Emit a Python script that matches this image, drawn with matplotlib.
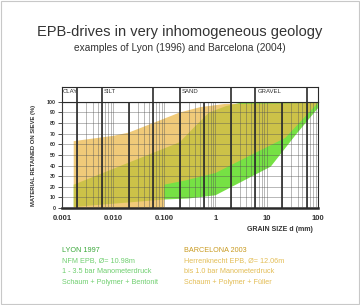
"""
Grain size distribution bands for EPB drives (Lyon / Barcelona),
redrawn as a sieve-curve chart.
"""

import matplotlib
matplotlib.use("Agg")
import matplotlib.pyplot as plt
from matplotlib.patches import Rectangle

plt.rcParams["font.family"] = ["Liberation Sans", "DejaVu Sans"]

# ---------------------------------------------------------------------------
# Data (grain size d in mm, material retained in %)
# ---------------------------------------------------------------------------

lyon_upper_d = [0.0017, 0.2, 0.4, 0.75, 1.6, 3, 100]
lyon_upper_p = [22, 62, 77, 90, 96, 99, 99]
lyon_lower_d = [0.0017, 0.1, 0.3, 1.0, 12, 37, 100]
lyon_lower_p = [1, 8, 9, 12, 39, 69, 94]

barc_upper_d = [0.0017, 0.01, 0.02, 0.06, 0.2, 0.5, 1.5, 100]
barc_upper_p = [63, 68, 71, 80, 90, 95, 98, 99]
barc_lower_d = [0.0017, 0.1, 0.1, 0.26, 1.0, 6, 23, 100]
barc_lower_p = [0, 0, 22, 26, 33, 52, 66, 99]

x_ticks = [0.001, 0.01, 0.1, 1, 10, 100]
x_tick_labels = ["0.001", "0.010", "0.100", "1", "10", "100"]
y_ticks = list(range(0, 101, 10))

soil_bounds = [0.002, 0.006, 0.02, 0.06, 0.2, 0.6, 2, 6, 20, 60]
header_bounds = [0.002, 0.006, 0.06, 0.2, 2, 6, 60]
soil_names = ["CLAY", "SILT", "SAND", "GRAVEL"]
soil_name_d = [0.00106, 0.0066, 0.22, 6.6]

lyon_text = ["LYON 1997", "NFM EPB, \u00d8= 10.98m",
             "1 - 3.5 bar Manometerdruck", "Schaum + Polymer + Bentonit"]
barc_text = ["BARCELONA 2003", "Herrenknecht EPB, \u00d8= 12.06m",
             "bis 1.0 bar Manometerdruck", "Schaum + Polymer + F\u00fcller"]

# ---------------------------------------------------------------------------
# Style
# ---------------------------------------------------------------------------

_LYON_COLOR = "#6FE03A"
_BARC_COLOR = "#EBB84A"
_LINE = "#2a2a2a"

fig = plt.figure(figsize=(3.6, 3.05), dpi=100)
fig.patches.append(Rectangle((0.004, 0.004), 0.992, 0.992, transform=fig.transFigure,
                             fill=False, edgecolor="#c8c8c8", linewidth=0.8))

ax = fig.add_axes([0.172, 0.318, 0.711, 0.348])
ax_h = fig.add_axes([0.172, 0.666, 0.711, 0.049], sharex=ax)

# bands
ax.fill(lyon_upper_d + lyon_lower_d[::-1], lyon_upper_p + lyon_lower_p[::-1],
        color=_LYON_COLOR, alpha=0.95, linewidth=0, zorder=1)
ax.fill(barc_upper_d + barc_lower_d[::-1], barc_upper_p + barc_lower_p[::-1],
        color=_BARC_COLOR, alpha=0.74, linewidth=0, zorder=2)

ax.set_xscale("log")
ax.set_xlim(0.001, 100)
ax.set_ylim(0, 100)

# grid
minor = [m * 10.0 ** e for e in range(-3, 2) for m in range(2, 10)]
for d in minor + x_ticks:
    ax.axvline(d, color="#555555", linewidth=0.45, alpha=0.65, zorder=3)
for p in y_ticks:
    ax.axhline(p, color="#555555", linewidth=0.45, alpha=0.65, zorder=3)
for d in soil_bounds:
    ax.axvline(d, color=_LINE, linewidth=1.2, zorder=4)

ax.set_xticks(x_ticks)
ax.set_xticklabels(x_tick_labels, fontsize=5.5, fontweight="bold", color="#333333")
ax.xaxis.set_minor_locator(matplotlib.ticker.NullLocator())
ax.set_yticks(y_ticks)
ax.set_yticklabels([str(v) for v in y_ticks], fontsize=3.8, fontweight="bold",
                   color="#333333")
ax.tick_params(axis="y", length=3, width=0.6, pad=1.5, colors="#333333")
ax.tick_params(axis="x", length=0, pad=5)
for side in ("left", "right", "top"):
    ax.spines[side].set_linewidth(0.8)
    ax.spines[side].set_color(_LINE)
ax.spines["bottom"].set_linewidth(1.8)
ax.spines["bottom"].set_color(_LINE)

ax.set_ylabel("MATERIAL RETAINED ON SIEVE (%)", fontsize=4.2, fontweight="bold",
              color="#333333", labelpad=8)
ax.text(0.85, -0.2, "GRAIN SIZE d (mm)", transform=ax.transAxes, fontsize=5,
        fontweight="bold", color="#333333", ha="center", va="center")

# header band with soil classes
ax_h.set_ylim(0, 1)
ax_h.tick_params(left=False, bottom=False, labelleft=False, labelbottom=False)
for s in ax_h.spines.values():
    s.set_linewidth(0.8)
    s.set_color(_LINE)
for d in header_bounds:
    ax_h.axvline(d, color=_LINE, linewidth=1.2)
for name, d in zip(soil_names, soil_name_d):
    ax_h.text(d, 0.68, name, fontsize=4.3, color="#333333", va="center", ha="left")

# titles
fig.text(0.5, 0.895, "EPB-drives in very inhomogeneous geology", fontsize=10.5,
         color="#333333", ha="center", va="center")
fig.text(0.5, 0.842, "examples of Lyon (1996) and Barcelona (2004)", fontsize=7.3,
         color="#333333", ha="center", va="center")

# legend blocks
for i, line in enumerate(lyon_text):
    fig.text(0.172, 0.18 - i * 0.035, line, fontsize=5.2,
             color="#3aa83a" if i == 0 else "#6fcf6f", va="center")
for i, line in enumerate(barc_text):
    fig.text(0.512, 0.18 - i * 0.035, line, fontsize=5.2,
             color="#c99a20" if i == 0 else "#e3bd55", va="center")

fig.savefig("out.png", dpi=100)
